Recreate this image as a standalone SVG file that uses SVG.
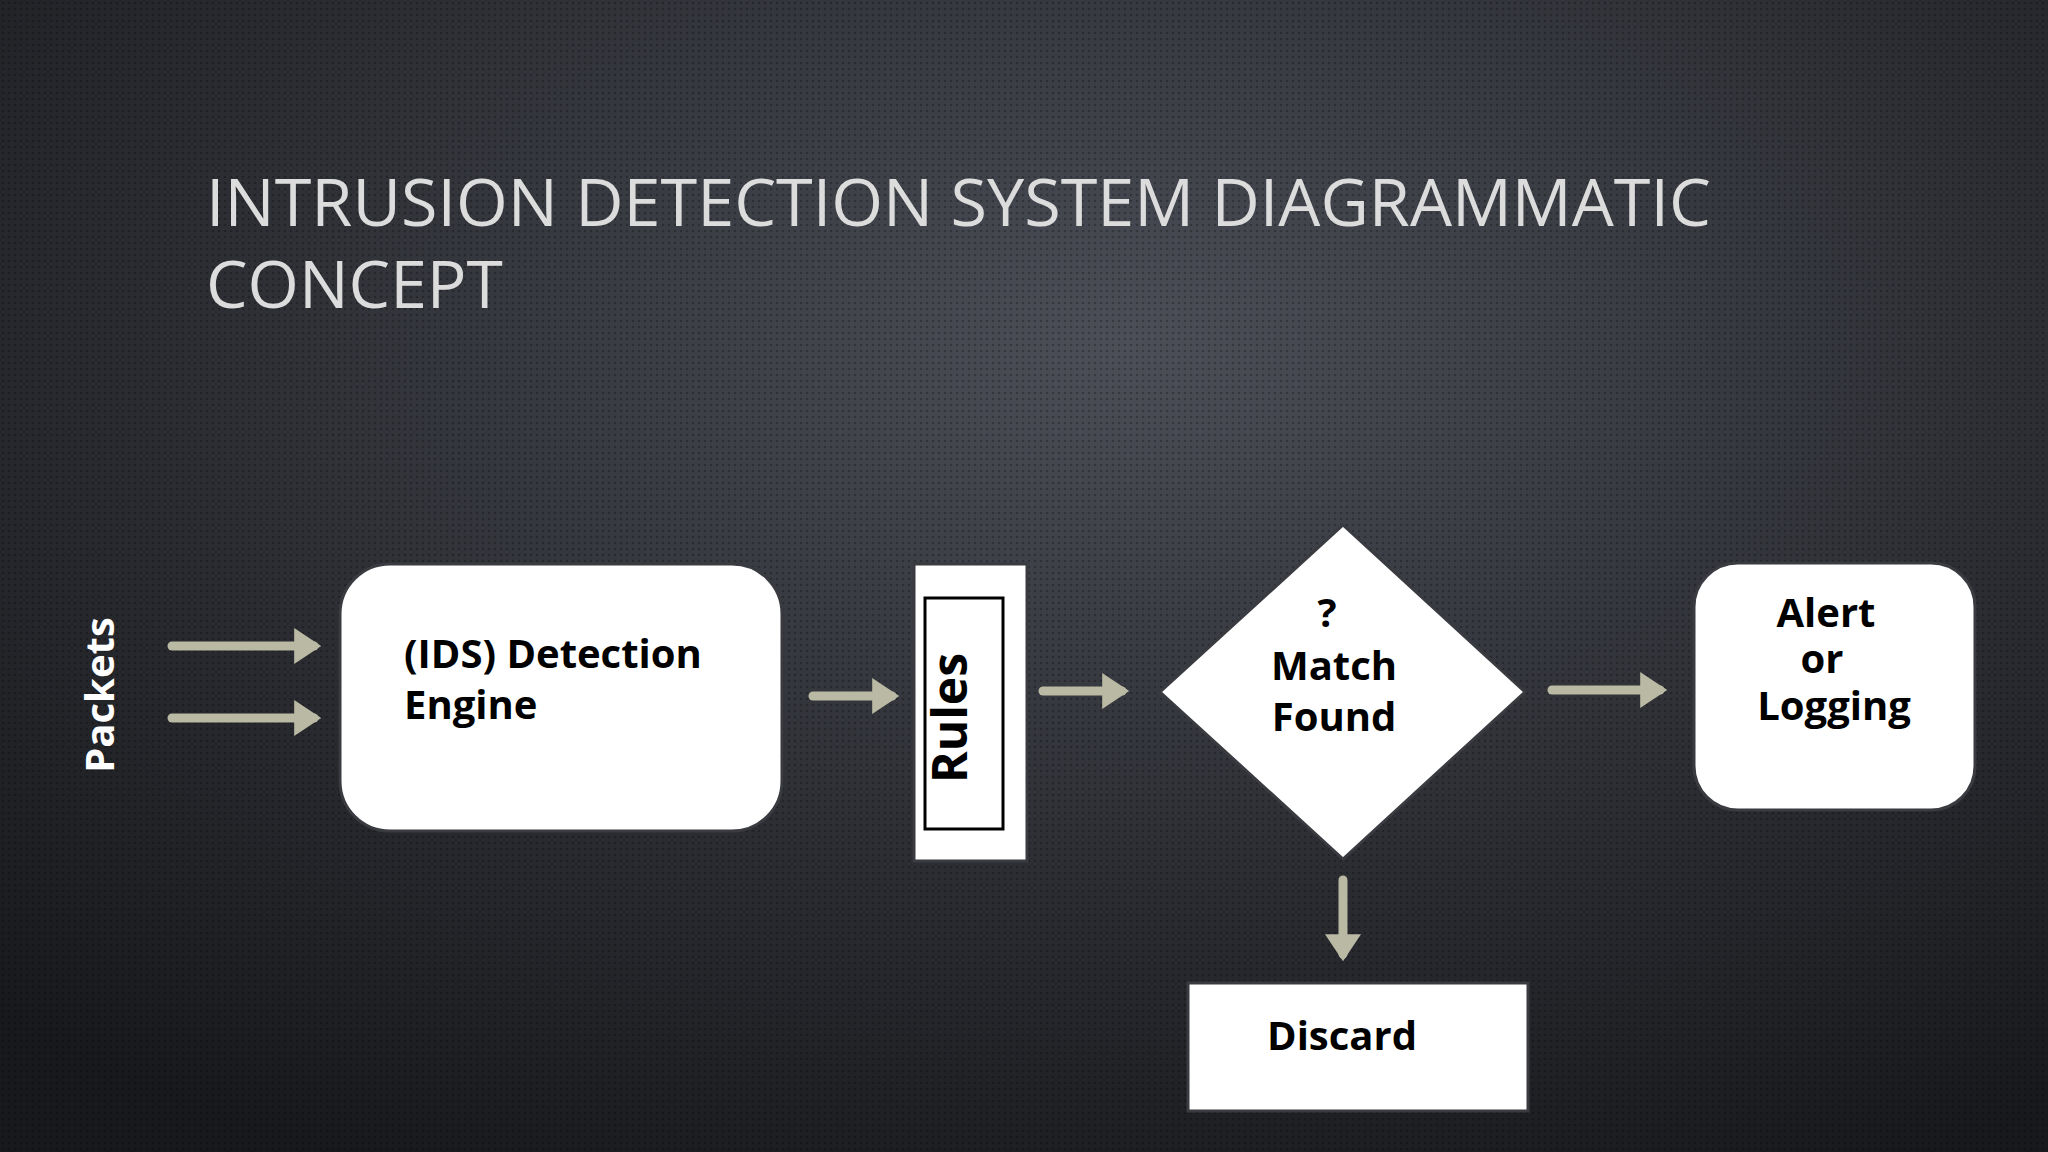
<svg xmlns="http://www.w3.org/2000/svg" width="2048" height="1152" viewBox="0 0 2048 1152">
<defs>
<radialGradient id="bg" cx="0.55" cy="0.3" r="0.8">
<stop offset="0" stop-color="#4c4f58"/><stop offset="0.6" stop-color="#2a2c31"/><stop offset="1" stop-color="#18191c"/>
</radialGradient>
<pattern id="dots" width="6" height="6" patternUnits="userSpaceOnUse"><circle cx="3" cy="3" r="1.3" fill="#000" opacity="0.25"/></pattern>
<marker id="ah" markerWidth="4" markerHeight="4" refX="2.2" refY="2" orient="auto" markerUnits="strokeWidth"><path d="M0,0 L3,2 L0,4 Z" fill="#b9b9a4"/></marker>
<style>
.ln{stroke:#b9b9a4;stroke-width:9;stroke-linecap:round;fill:none;marker-end:url(#ah)}
.box{fill:#fff;stroke:#3a3b40;stroke-width:3}
.t{font-family:"Open Sans","Liberation Sans",sans-serif;font-weight:bold;font-size:40px;fill:#000}
.title{font-family:"Open Sans","Liberation Sans",sans-serif;font-size:66px;fill:#dcdcdc}
</style>
</defs>
<rect width="2048" height="1152" fill="url(#bg)"/>
<rect width="2048" height="1152" fill="url(#dots)"/>
<text class="title" x="206" y="226" textLength="1505" lengthAdjust="spacingAndGlyphs">INTRUSION DETECTION SYSTEM DIAGRAMMATIC</text>
<text class="title" x="206" y="308">CONCEPT</text>
<g id="packets"><text class="t" style="fill:#fff" transform="translate(114,695) rotate(-90)" text-anchor="middle">Packets</text></g>
<g id="connectors">
<line class="ln" x1="172" y1="646" x2="314" y2="646"/>
<line class="ln" x1="172" y1="718" x2="314" y2="718"/>
<line class="ln" x1="813" y1="696" x2="892" y2="696"/>
<line class="ln" x1="1043" y1="691" x2="1122" y2="691"/>
<line class="ln" x1="1552" y1="690" x2="1660" y2="690"/>
<line class="ln" x1="1343" y1="880" x2="1343" y2="954"/>
</g>
<g id="engine"><rect class="box" x="340" y="564" width="442" height="267" rx="50"/>
<text class="t" x="404" y="668">(IDS) Detection</text><text class="t" x="404" y="719">Engine</text></g>
<g id="rules"><rect class="box" x="914" y="564" width="113" height="297"/>
<rect x="925" y="598" width="78" height="231" fill="none" stroke="#000" stroke-width="3"/>
<text class="t" style="font-size:48px" transform="translate(967,718) rotate(-90)" text-anchor="middle">Rules</text></g>
<g id="match"><polygon class="box" points="1343,525 1525,692 1343,859 1160,692"/>
<text class="t" x="1327" y="627" text-anchor="middle">?</text>
<text class="t" x="1334" y="680" text-anchor="middle">Match</text>
<text class="t" x="1334" y="731" text-anchor="middle">Found</text></g>
<g id="alert"><rect class="box" x="1694" y="563" width="281" height="247" rx="44"/>
<text class="t" x="1826" y="627" text-anchor="middle">Alert</text>
<text class="t" x="1822" y="673" text-anchor="middle">or</text>
<text class="t" x="1834" y="720" text-anchor="middle">Logging</text></g>
<g id="discard"><rect class="box" x="1188" y="983" width="340" height="128"/>
<text class="t" x="1342" y="1050" text-anchor="middle">Discard</text></g>
</svg>
